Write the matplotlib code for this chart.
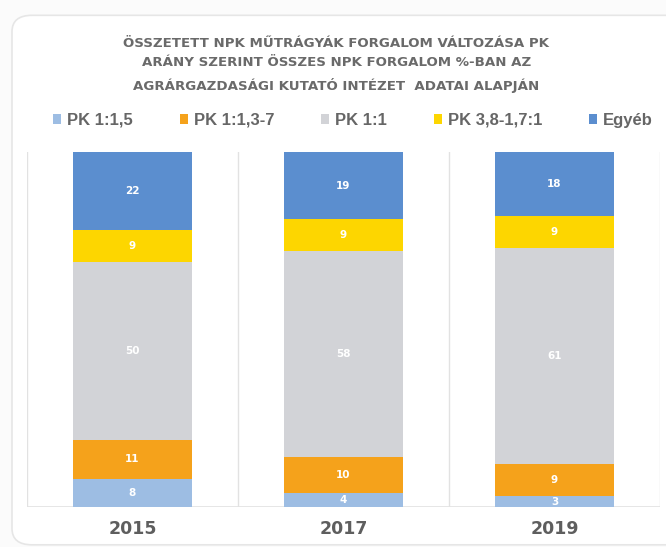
import numpy as np
import matplotlib
matplotlib.use("Agg")
import matplotlib.pyplot as plt
from matplotlib.patches import FancyBboxPatch

years = ["2015", "2017", "2019"]
series_names = ["PK 1:1,5", "PK 1:1,3-7", "PK 1:1", "PK 3,8-1,7:1", "Egyéb"]
pk_1_1_5 = [8, 4, 3]
pk_1_1_3_7 = [11, 10, 9]
pk_1_1 = [50, 58, 61]
pk_3_8_1_7 = [9, 9, 9]
egyeb = [22, 19, 18]
series_values = [pk_1_1_5, pk_1_1_3_7, pk_1_1, pk_3_8_1_7, egyeb]
colors = ["#9DBDE3", "#F5A21B", "#D2D3D7", "#FDD600", "#5B8ECF"]

title = ("ÖSSZETETT NPK MŰTRÁGYÁK FORGALOM VÁLTOZÁSA PK\n"
         "ARÁNY SZERINT ÖSSZES NPK FORGALOM %-BAN AZ\n"
         "AGRÁRGAZDASÁGI KUTATÓ INTÉZET  ADATAI ALAPJÁN")

fig = plt.figure(figsize=(6.66, 5.47), dpi=100)
fig.patch.set_facecolor("#FBFBFB")

# rounded card behind the chart
card = FancyBboxPatch((0.018, 0.004), 1.2, 0.968,
                      boxstyle="round,pad=0,rounding_size=0.03",
                      transform=fig.transFigure, facecolor="white",
                      edgecolor="#E6E6E6", linewidth=1.2, zorder=-5)
fig.patches.append(card)

ax = fig.add_axes([0.0405, 0.0731, 0.9505, 0.649])
ax.set_zorder(2)
ax.set_facecolor("none")

x = np.arange(len(years))
bottom = np.zeros(len(years))
containers = []
for name, vals, col in zip(series_names, series_values, colors):
    bars = ax.bar(x, vals, bottom=bottom, width=0.56, color=col, label=name,
                  zorder=3)
    ax.bar_label(bars, labels=[str(v) for v in vals], label_type="center",
                 color="white", fontsize=7.5, fontweight="bold",
                 family="DejaVu Sans")
    containers.append(bars)
    bottom += np.array(vals)

ax.set_xlim(-0.5, len(years) - 0.5)
ax.set_ylim(0, 100)
for b in np.arange(-0.5, len(years), 1.0):
    ax.axvline(b, color="#E2E2E2", linewidth=1.0, zorder=1)
ax.axhline(0, color="#E2E2E2", linewidth=1.2, zorder=1)
for s in ax.spines.values():
    s.set_visible(False)
ax.set_yticks([])
ax.set_xticks(x)
ax.set_xticklabels(years, fontsize=12.5, fontweight="bold", color="#5E5E5E",
                   family="DejaVu Sans")
ax.tick_params(axis="x", length=0, pad=9)

fig.text(0.505, 0.933, title, ha="center", va="top", fontsize=9.6,
         fontweight="bold", color="#6A6A6A", linespacing=1.68,
         family="DejaVu Sans")

fig.legend(handles=containers, labels=series_names, loc="center",
           bbox_to_anchor=(0.53, 0.78), ncol=5, frameon=False,
           handlelength=0.5, handleheight=0.5, handletextpad=0.35,
           columnspacing=2.8,
           prop={"family": "Liberation Sans", "weight": "bold", "size": 12},
           labelcolor="#666666")

fig.savefig("out.png", dpi=100, facecolor=fig.get_facecolor())
